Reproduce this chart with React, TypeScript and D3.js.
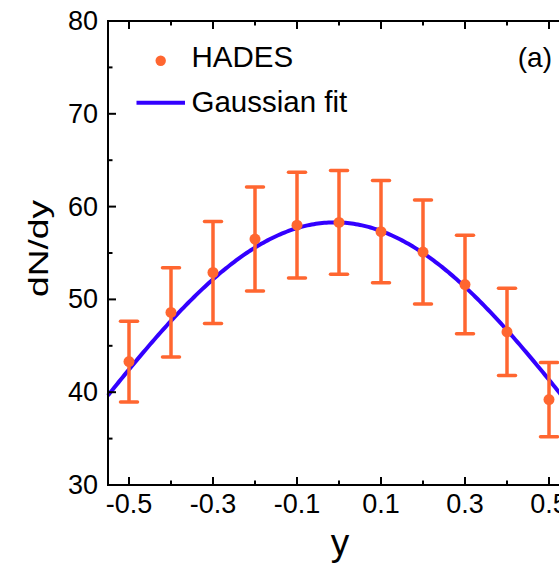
import React from "react";
import * as d3 from "d3";

const rapidity = [-0.5, -0.4, -0.3, -0.2, -0.1, 0.0, 0.1, 0.2, 0.3, 0.4, 0.5];
const dndy = [43.3, 48.6, 52.9, 56.5, 58.0, 58.3, 57.3, 55.1, 51.6, 46.5, 39.2];
const errors = [4.35, 4.8, 5.5, 5.6, 5.7, 5.6, 5.5, 5.6, 5.3, 4.7, 4.0];
const xMajorTicks = [-0.5, -0.3, -0.1, 0.1, 0.3, 0.5];
const xMinorTicks = [-0.4, -0.2, 0.0, 0.2, 0.4];
const yMajorTicks = [30, 40, 50, 60, 70, 80];
const yMinorTicks = [35, 45, 55, 65, 75];
const xTickLabels = ["-0.5", "-0.3", "-0.1", "0.1", "0.3", "0.5"];
// Gaussian fit parameters
const fitAmp = 58.3;
const fitMu = -0.01;
const fitSigma = 0.615;

const ORANGE = "#FF6630";
const BLUE = "#3300FF";
const FONT = "'Liberation Sans', Arial, sans-serif";

export default function App() {
  const W = 559, H = 564;
  const x = d3.scaleLinear().domain([-0.55, 0.55]).range([108, 570]);
  const y = d3.scaleLinear().domain([30, 80]).range([485, 21]);

  const fitXs = d3.range(0, 221).map((i) => -0.55 + (i * 1.1) / 220);
  const line = d3
    .line<number>()
    .x((d) => x(d))
    .y((d) => y(fitAmp * Math.exp(-((d - fitMu) ** 2) / (2 * fitSigma ** 2))));

  const x0 = x.range()[0], x1 = x.range()[1];
  const y0 = y.range()[0], y1 = y.range()[1];

  return (
    <svg
      width={W}
      height={H}
      style={{ position: "absolute", left: 0, top: 0, background: "#fff" }}
      fontFamily={FONT}
    >
      <rect x={0} y={0} width={W} height={H} fill="#fff" />
      {/* fit curve */}
      <path d={line(fitXs) || ""} fill="none" stroke={BLUE} strokeWidth={4} />
      {/* error bars */}
      {rapidity.map((r, i) => {
        const cx = x(r);
        const top = y(dndy[i] + errors[i]);
        const bot = y(dndy[i] - errors[i]);
        return (
          <g key={i} stroke={ORANGE} strokeWidth={3.5}>
            <line x1={cx} x2={cx} y1={top} y2={bot} />
            <line x1={cx - 8.5} x2={cx + 8.5} y1={top} y2={top} strokeLinecap="round" />
            <line x1={cx - 8.5} x2={cx + 8.5} y1={bot} y2={bot} strokeLinecap="round" />
          </g>
        );
      })}
      {rapidity.map((r, i) => (
        <circle key={"p" + i} cx={x(r)} cy={y(dndy[i])} r={5.5} fill={ORANGE} />
      ))}
      {/* axes frame */}
      <g stroke="#000" strokeWidth={2} fill="none">
        <line x1={x0} x2={x0} y1={y0 + 1} y2={y1 - 1} />
        <line x1={x0 - 1} x2={x1} y1={y0} y2={y0} />
        <line x1={x0 - 1} x2={x1} y1={y1} y2={y1} />
        <line x1={x1} x2={x1} y1={y0} y2={y1} />
      </g>
      {/* x ticks */}
      <g stroke="#000" strokeWidth={2}>
        {xMajorTicks.map((t) => (
          <g key={"xm" + t}>
            <line x1={x(t)} x2={x(t)} y1={y0} y2={y0 - 8} />
            <line x1={x(t)} x2={x(t)} y1={y1} y2={y1 + 8} />
          </g>
        ))}
        {xMinorTicks.map((t) => (
          <g key={"xn" + t}>
            <line x1={x(t)} x2={x(t)} y1={y0} y2={y0 - 4.5} />
            <line x1={x(t)} x2={x(t)} y1={y1} y2={y1 + 4.5} />
          </g>
        ))}
        {yMajorTicks.map((t) => (
          <g key={"ym" + t}>
            <line x1={x0} x2={x0 + 8} y1={y(t)} y2={y(t)} />
            <line x1={x1} x2={x1 - 8} y1={y(t)} y2={y(t)} />
          </g>
        ))}
        {yMinorTicks.map((t) => (
          <g key={"yn" + t}>
            <line x1={x0} x2={x0 + 4.5} y1={y(t)} y2={y(t)} />
            <line x1={x1} x2={x1 - 4.5} y1={y(t)} y2={y(t)} />
          </g>
        ))}
      </g>
      {/* tick labels */}
      <g fontSize={27} fill="#000">
        {xMajorTicks.map((t, i) => (
          <text key={"xl" + t} x={x(t)} y={513} textAnchor="middle">
            {xTickLabels[i]}
          </text>
        ))}
        {yMajorTicks.map((t) => (
          <text key={"yl" + t} x={98} y={y(t) + 9} textAnchor="end">
            {String(t)}
          </text>
        ))}
      </g>
      {/* axis titles */}
      <text x={340} y={555} fontSize={37} textAnchor="middle" fill="#000">
        y
      </text>
      <text
        transform="translate(48,248.5) rotate(-90)"
        fontSize={27}
        textAnchor="middle"
        textLength={97}
        lengthAdjust="spacingAndGlyphs"
        fill="#000"
      >
        dN/dy
      </text>
      {/* legend */}
      <circle cx={160.7} cy={60.7} r={5.2} fill={ORANGE} />
      <text x={191.5} y={67} fontSize={29.5} fill="#000">
        HADES
      </text>
      <line x1={136.5} x2={185} y1={102.7} y2={102.7} stroke={BLUE} strokeWidth={4} />
      <text x={191.5} y={112} fontSize={29.5} fill="#000">
        Gaussian fit
      </text>
      <text x={552} y={67} fontSize={28} textAnchor="end" fill="#000">
        (a)
      </text>
    </svg>
  );
}
